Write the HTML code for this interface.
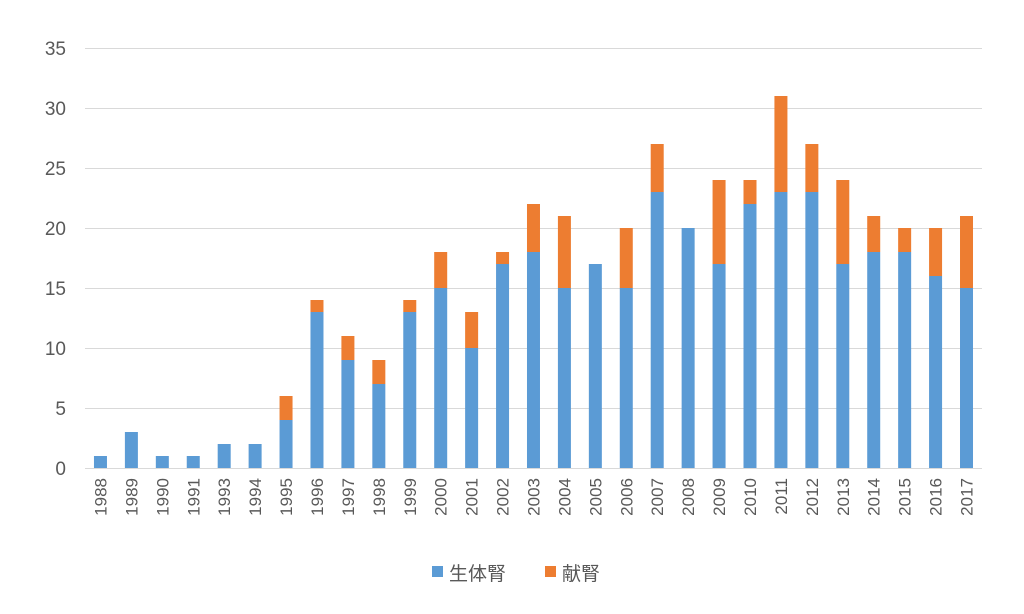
<!DOCTYPE html>
<html><head><meta charset="utf-8"><style>body{margin:0;background:#fff}svg{display:block}</style></head><body>
<svg width="1024" height="614" xmlns="http://www.w3.org/2000/svg" font-family="Liberation Sans, Noto Sans CJK JP, sans-serif" fill="#595959">
<g stroke="#d9d9d9" stroke-width="1">
<line x1="85" x2="982" y1="48.5" y2="48.5"/><line x1="85" x2="982" y1="108.5" y2="108.5"/><line x1="85" x2="982" y1="168.5" y2="168.5"/><line x1="85" x2="982" y1="228.5" y2="228.5"/><line x1="85" x2="982" y1="288.5" y2="288.5"/><line x1="85" x2="982" y1="348.5" y2="348.5"/><line x1="85" x2="982" y1="408.5" y2="408.5"/><line x1="85" x2="982" y1="468.5" y2="468.5"/>
</g>
<g font-size="19" text-anchor="end">
<text x="66" y="55">35</text><text x="66" y="115">30</text><text x="66" y="175">25</text><text x="66" y="235">20</text><text x="66" y="295">15</text><text x="66" y="355">10</text><text x="66" y="415">5</text><text x="66" y="475">0</text>
</g>
<g id="bars"></g>
<g id="labels" font-size="17" text-anchor="end"></g>
<rect x="432" y="566" width="11" height="11" fill="#5B9BD5"/>
<text x="449" y="580" font-size="19" fill="#595959">生体腎</text>
<rect x="545" y="566" width="11" height="11" fill="#ED7D31"/>
<text x="562" y="580" font-size="19" fill="#595959">献腎</text>
<script>
var d=[[1988,1,0],[1989,3,0],[1990,1,0],[1991,1,0],[1993,2,0],[1994,2,0],[1995,4,2],[1996,13,1],[1997,9,2],[1998,7,2],[1999,13,1],[2000,15,3],[2001,10,3],[2002,17,1],[2003,18,4],[2004,15,6],[2005,17,0],[2006,15,5],[2007,23,4],[2008,20,0],[2009,17,7],[2010,22,2],[2011,23,8],[2012,23,4],[2013,17,7],[2014,18,3],[2015,18,2],[2016,16,4],[2017,15,6]];
var ns="http://www.w3.org/2000/svg",b=document.getElementById("bars"),l=document.getElementById("labels");
d.forEach(function(r,i){var cx=85+30.93*(i+0.5),w=13,x=cx-w/2;
function rc(y,h,c){var e=document.createElementNS(ns,"rect");e.setAttribute("x",x);e.setAttribute("y",y);e.setAttribute("width",w);e.setAttribute("height",h);e.setAttribute("fill",c);b.appendChild(e);}
rc(468-r[1]*12,r[1]*12,"#5B9BD5");if(r[2])rc(468-(r[1]+r[2])*12,r[2]*12,"#ED7D31");
var t=document.createElementNS(ns,"text");t.setAttribute("transform","translate("+(cx+6)+",478) rotate(-90)");t.textContent=r[0];l.appendChild(t);});
</script>
</svg>
</body></html>
